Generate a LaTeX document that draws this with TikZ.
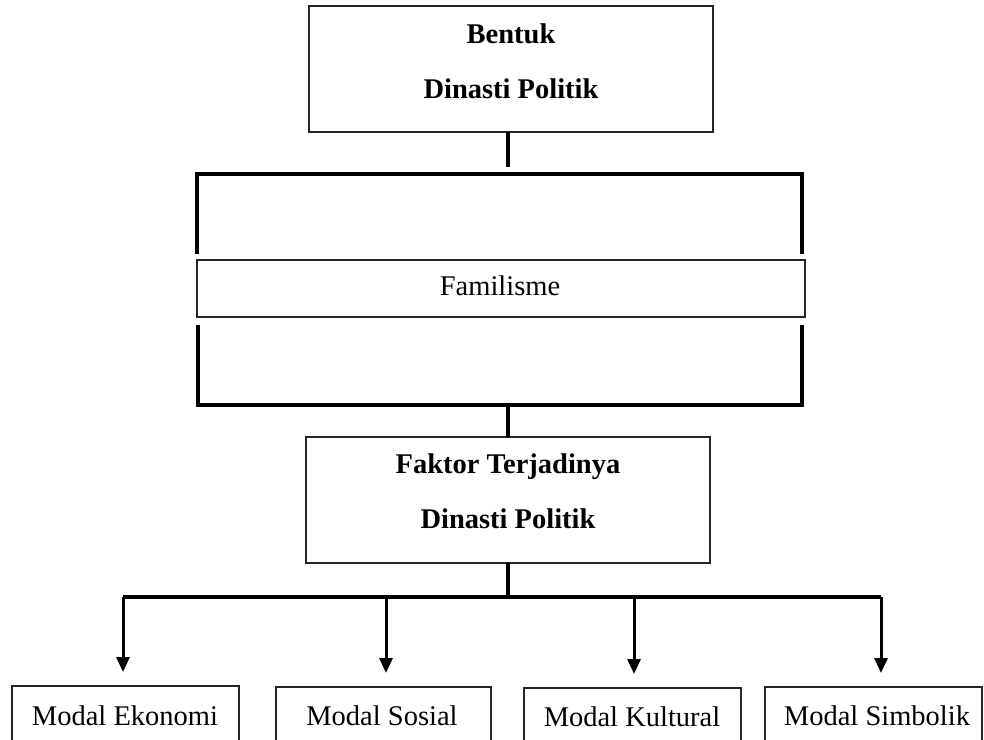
\documentclass[tikz,border=0pt]{standalone}
\usepackage{fontspec}
\setmainfont{Liberation Serif}
\usetikzlibrary{arrows.meta}
\begin{document}
\begin{tikzpicture}[x=1pt,y=-1pt,
  box/.style={draw=black!85, line width=1.2pt, inner sep=0pt, outer sep=0pt},
  bracket/.style={line width=4.4pt, line cap=rect},
  link/.style={line width=3.2pt},
  arr/.style={line width=3pt, -{Triangle[length=15pt,width=13pt]}, shorten >=14pt},
  btxt/.style={font=\fontsize{28.5}{34}\selectfont\bfseries, anchor=base, inner sep=0pt},
  rtxt/.style={font=\fontsize{28.5}{34}\selectfont, anchor=base, inner sep=0pt}]
\useasboundingbox (0,0) rectangle (984,739);
\clip (0,0) rectangle (984,739);

% top box
\node[box, minimum width=404pt, minimum height=126pt] (top) at (511,69) {};
\node[btxt] (topa) at (511,43) {Bentuk};
\node[btxt] (topb) at (511,98) {Dinasti Politik};

% upper bracket
\coordinate (mid) at (508,167);
\coordinate (ul) at (197,252);
\coordinate (ulc) at (197,174);
\coordinate (urc) at (802,174);
\coordinate (ur) at (802,252);
\draw[link] (top.south -| mid) -- (mid);
\draw[bracket] (ul) -- (ulc) -- (urc) -- (ur);

% Familisme
\node[box, minimum width=608pt, minimum height=57pt] (fam) at (501,288.5) {};
\node[rtxt] (famt) at (500,295) {Familisme};

% lower bracket
\coordinate (mid2) at (508,405);
\coordinate (ll) at (198,327);
\coordinate (llc) at (198,405);
\coordinate (lrc) at (802,405);
\coordinate (lr) at (802,327);
\draw[bracket] (ll) -- (llc) -- (lrc) -- (lr);

% Faktor box
\node[box, minimum width=404pt, minimum height=126pt] (fak) at (508,500) {};
\node[btxt] (faka) at (508,473) {Faktor Terjadinya};
\node[btxt] (fakb) at (508,528) {Dinasti Politik};
\draw[link] (mid2) -- (fak.north);

% distribution line
\coordinate (j0) at (508,597);
\coordinate (h1) at (123,597);
\coordinate (h2) at (386,597);
\coordinate (h3) at (634,597);
\coordinate (h4) at (881,597);
\draw[link] (fak.south) -- (j0);
\draw[line width=3.4pt] (h1) -- (h4);

% bottom boxes
\node[box, anchor=north, minimum width=227pt, minimum height=80pt] (eko) at (125.5,686) {};
\node[box, anchor=north, minimum width=215pt, minimum height=80pt] (sos) at (383.5,687) {};
\node[box, anchor=north, minimum width=217pt, minimum height=80pt] (kul) at (632.5,688) {};
\node[box, anchor=north, minimum width=217pt, minimum height=80pt] (sim) at (873.5,687) {};
\node[rtxt] (ekot) at (125,725) {Modal Ekonomi};
\node[rtxt] (sost) at (382,725) {Modal Sosial};
\node[rtxt] (kult) at (632,726) {Modal Kultural};
\node[rtxt] (simt) at (877,725) {Modal Simbolik};

\draw[arr] (h1) -- (h1 |- eko.north);
\draw[arr] (h2) -- (h2 |- sos.north);
\draw[arr] (h3) -- (h3 |- kul.north);
\draw[arr] (h4) -- (h4 |- sim.north);
\end{tikzpicture}
\end{document}
